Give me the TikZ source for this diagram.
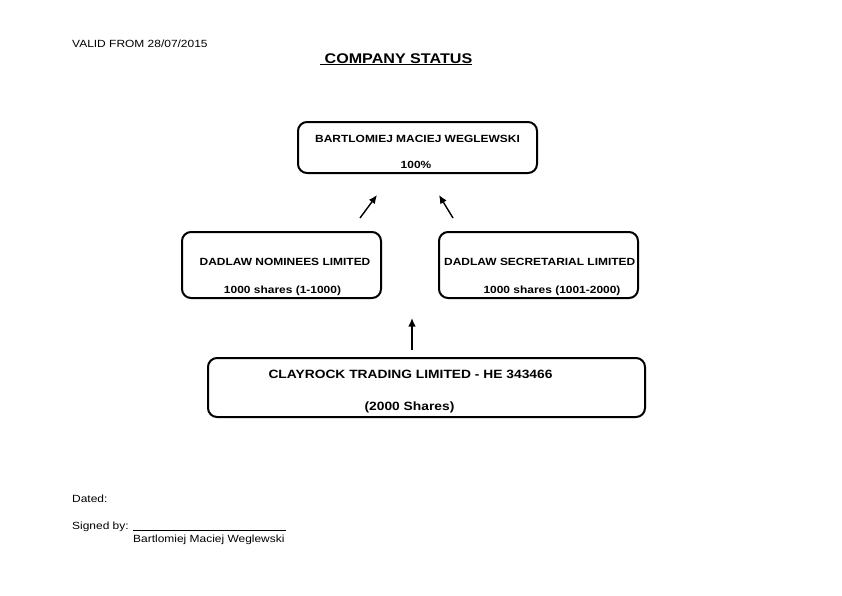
\documentclass[tikz,border=0pt]{standalone}
\usepackage{fontspec}
\setmainfont{Liberation Sans}[FakeStretch=1.15]
\usetikzlibrary{arrows.meta}
\begin{document}
\begin{tikzpicture}[x=1pt,y=-1pt,
  box/.style={draw,line width=2pt,rounded corners=9pt},
  txt/.style={inner sep=0pt,font=\fontsize{10.4}{12}\selectfont\bfseries},
  plain/.style={inner sep=0pt,font=\fontsize{10.4}{12}\selectfont},
  big/.style={inner sep=0pt,font=\fontsize{12}{14}\selectfont\bfseries},
  arr/.style={line width=1.4pt,-{Latex[length=8.5pt,width=7.5pt]}}]
\useasboundingbox (0,0) rectangle (842,595);
% boxes
\draw[box] (298,122) rectangle (537,173);
\draw[box] (182,232) rectangle (381,298);
\draw[box] (439,232) rectangle (638,298);
\draw[box] (208,358) rectangle (645,417);
% header
\node[plain,anchor=base west] (valid) at (72,47) {VALID FROM 28/07/2015};
\node[inner sep=0pt,anchor=base west,font=\fontsize{14}{16}\selectfont\bfseries] (title) at (320,63) {\underline{\ COMPANY STATUS}};
% top box
\node[txt,anchor=base] (owner) at (417.5,142) {BARTLOMIEJ MACIEJ WEGLEWSKI};
\node[txt,anchor=base] (pct) at (416,168) {100\%};
% mid boxes
\node[txt,anchor=base] (nom) at (285,265) {DADLAW NOMINEES LIMITED};
\node[txt,anchor=base] (nomsh) at (282.5,293) {1000 shares (1-1000)};
\node[txt,anchor=base west] (sec) at (444,265) {DADLAW SECRETARIAL LIMITED};
\node[txt,anchor=base] (secsh) at (552,293) {1000 shares (1001-2000)};
% bottom box
\node[big,anchor=base] (clay) at (410.5,378) {CLAYROCK TRADING LIMITED - HE 343466};
\node[big,anchor=base] (clsh) at (409.5,410) {(2000 Shares)};
% arrows
\coordinate (a1s) at (360,218); \coordinate (a1e) at (377,195);
\coordinate (a2s) at (453,218); \coordinate (a2e) at (439,195);
\coordinate (a3s) at (412,350); \coordinate (a3e) at (412,318);
\draw[arr] (a1s) -- (a1e);
\draw[arr] (a2s) -- (a2e);
\draw[arr] (a3s) -- (a3e);
% footer
\node[plain,anchor=base west] (dated) at (72,502) {Dated:};
\node[plain,anchor=base west] (signed) at (72,529) {Signed by:};
\coordinate (l1) at (133,530); \coordinate (l2) at (286,530);
\draw[line width=0.8pt] (l1) -- (l2);
\node[plain,anchor=base west] (sig) at (133,542) {Bartlomiej Maciej Weglewski};
\end{tikzpicture}
\end{document}
